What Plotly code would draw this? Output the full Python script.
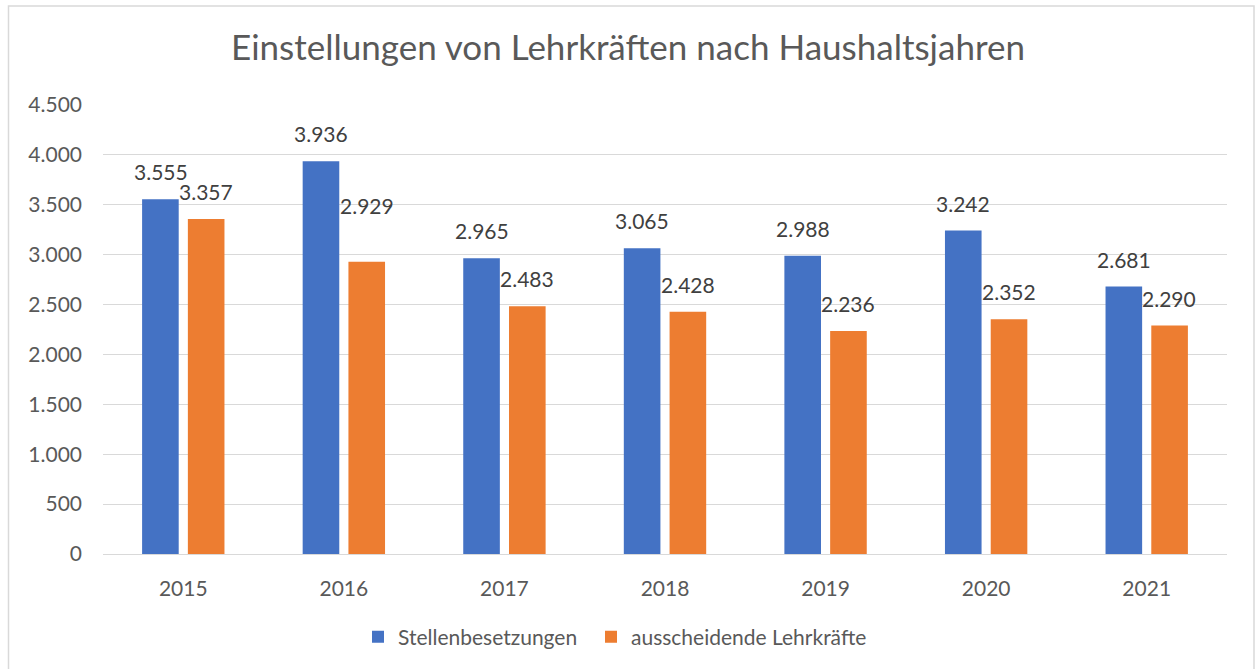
import plotly.graph_objects as go

years = ["2015", "2016", "2017", "2018", "2019", "2020", "2021"]
stellen = [3555, 3936, 2965, 3065, 2988, 3242, 2681]
ausscheidend = [3357, 2929, 2483, 2428, 2236, 2352, 2290]
series_names = ["Stellenbesetzungen", "ausscheidende Lehrkräfte"]
y_ticks = [0, 500, 1000, 1500, 2000, 2500, 3000, 3500, 4000, 4500]

BLUE = "#4472C4"
ORANGE = "#ED7D31"
FONT = "Lato"
TXT = "#595959"

def de(v):
    return f"{v:,}".replace(",", ".")

fig = go.Figure()
for name, vals, col, leg in [(series_names[0], stellen, BLUE, "legend"),
                             (series_names[1], ausscheidend, ORANGE, "legend2")]:
    fig.add_trace(go.Bar(
        x=years, y=vals, name=name, marker_color=col, marker_line_width=0,
        hoverinfo="skip", legend=leg,
    ))

# data labels (Excel "outside end"), one manually lifted label
extra = {(1, 1): 29}
annotations = []
for si, (vals, dx) in enumerate([(stellen, -22.75), (ausscheidend, 22.75)]):
    for ci, v in enumerate(vals):
        annotations.append(dict(
            x=ci, y=v, xref="x", yref="y", text=de(v), showarrow=False,
            xshift=dx, yshift=13 + extra.get((si, ci), 0), yanchor="bottom",
            font=dict(family=FONT, size=21, color="#404040"),
        ))

leg_common = dict(orientation="h", y=-0.185, yanchor="middle", xanchor="left",
                  font=dict(family=FONT, size=21, color=TXT), itemwidth=30,
                  bgcolor="rgba(0,0,0,0)")

fig.update_layout(
    width=1255, height=669,
    margin=dict(l=103, r=28, t=105, b=115),
    paper_bgcolor="white", plot_bgcolor="white",
    barmode="group", bargap=0.43, bargroupgap=0.2,
    title=dict(text="Einstellungen von Lehrkräften nach Haushaltsjahren",
               x=(628 - 0) / 1255, xanchor="center", y=0.928, yanchor="middle",
               font=dict(family=FONT, size=35, color=TXT)),
    font=dict(family=FONT, size=21, color=TXT),
    showlegend=True,
    legend=dict(x=(358 - 103) / 1124, **leg_common),
    legend2=dict(x=(591 - 103) / 1124, **leg_common),
    annotations=annotations,
    shapes=[dict(type="rect", xref="paper", yref="paper",
                 x0=(8.5 - 103) / 1124, x1=(1254 - 103) / 1124,
                 y0=(554 - 675) / 449, y1=(554 - 6) / 449,
                 line=dict(color="#D9D9D9", width=1.5), fillcolor="rgba(0,0,0,0)",
                 layer="below")],
)
fig.update_yaxes(range=[0, 4500], tickvals=y_ticks,
                 ticktext=[de(t) for t in y_ticks],
                 showgrid=True, gridcolor="#D9D9D9", gridwidth=1.3,
                 zeroline=True, zerolinecolor="#D9D9D9", zerolinewidth=1.3,
                 showline=False, ticks="", ticklabelstandoff=20,
                 tickfont=dict(family=FONT, size=21, color=TXT), fixedrange=True)
fig.update_xaxes(type="category", range=[-0.5, len(years) - 0.5],
                 showgrid=False, showline=False, ticks="", ticklabelstandoff=20,
                 tickfont=dict(family=FONT, size=21, color=TXT), fixedrange=True)

fig.write_html("out.html", config={"displayModeBar": False})
